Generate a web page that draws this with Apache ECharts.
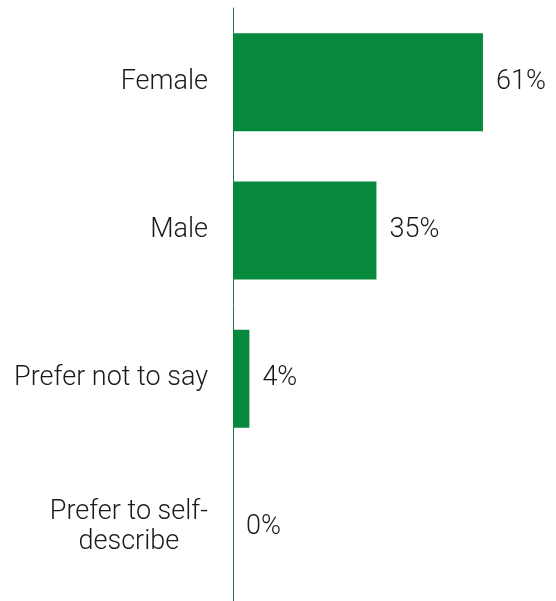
<!DOCTYPE html>
<html><head><meta charset="utf-8">
<script src="https://cdn.jsdelivr.net/npm/echarts@6/dist/echarts.min.js"></script>
<style>html,body{margin:0;padding:0;background:#fff}#c{width:556px;height:601px}</style>
</head><body><div id="c"></div>
<script>
const categories = ["Female", "Male", "Prefer not to say", "Prefer to self-\ndescribe"];
const values = [61, 35, 4, 0];
const chart = echarts.init(document.getElementById('c'));
const xMax = 70;
const pxPerUnit = 4.098;
const gridLeft = 233;
const txt = {color: '#1a1a1a', fontFamily: 'Roboto', fontWeight: 300, fontSize: 27};
chart.setOption({
  animation: false,
  grid: {left: gridLeft, top: 8, bottom: 0, width: xMax * pxPerUnit, containLabel: false},
  xAxis: {type: 'value', min: 0, max: xMax, show: false},
  yAxis: {
    type: 'category', data: categories, inverse: true,
    axisLine: {show: true, lineStyle: {color: '#1f7a45', width: 1}},
    axisTick: {show: false},
    axisLabel: Object.assign({}, txt, {
      margin: 25, align: 'right', lineHeight: 30,
      formatter: v => v.split('\n').map(l => '{c|' + l + '}').join('\n'),
      rich: {c: Object.assign({}, txt, {align: 'center', lineHeight: 30})}
    })
  },
  series: [{
    type: 'bar', data: values, barWidth: 98,
    itemStyle: {color: '#07893d'},
    label: Object.assign({show: true, position: 'right', distance: 13, formatter: '{c}%'}, txt)
  }]
});
</script></body></html>
